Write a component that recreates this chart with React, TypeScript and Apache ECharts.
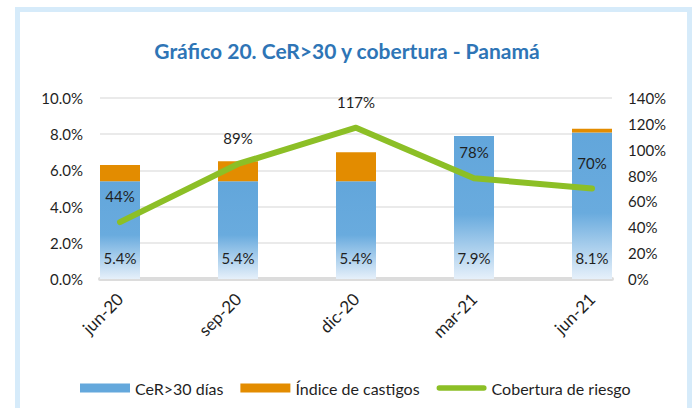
import React, { useEffect, useRef } from "react";
import * as echarts from "echarts";

const categories = ["jun-20", "sep-20", "dic-20", "mar-21", "jun-21"];
const cer30 = [5.4, 5.4, 5.4, 7.9, 8.1];
const castigos = [0.9, 1.1, 1.6, 0, 0.2];
const cobertura = [44, 89, 117, 78, 70];
const seriesNames = ["CeR>30 días", "Índice de castigos", "Cobertura de riesgo"];
const titleText = "Gráfico 20. CeR>30 y cobertura - Panamá";

const FONT = "Lato, 'Open Sans', sans-serif";
const TEXT = "#1f1f1f";
const BLUE = "#64A8DC";
const ORANGE = "#E38C00";
const GREEN = "#8CBF26";

export default function App() {
  const ref = useRef<HTMLDivElement>(null);
  useEffect(() => {
    if (!ref.current) return;
    const chart = echarts.init(ref.current, undefined, { renderer: "svg" });
    const top = 98;
    const height = 181;
    const option: any = {
      animation: false,
      backgroundColor: "#ffffff",
      textStyle: { fontFamily: FONT },
      title: {
        text: titleText,
        left: "center",
        top: 40,
        padding: [0, 0, 0, 8],
        textStyle: { color: "#2E75B6", fontSize: 21, fontWeight: "bold", fontFamily: FONT },
      },
      graphic: [
        {
          type: "rect",
          silent: true,
          shape: { x: 17.5, y: 9.5, width: 672, height: 430 },
          style: { fill: "none", stroke: "#D6EBFA", lineWidth: 5 },
          z: -1,
        },
      ],
      legend: {
        left: 75,
        top: 375,
        itemWidth: 50,
        itemHeight: 9,
        itemGap: 17,
        textStyle: { color: TEXT, fontSize: 16, fontFamily: FONT },
        data: [
          { name: seriesNames[0], icon: "rect", itemStyle: { color: BLUE } },
          { name: seriesNames[1], icon: "rect", itemStyle: { color: ORANGE } },
          {
            name: seriesNames[2],
            icon: "path://M3,0 L53,0 A3,3 0 0 1 53,6 L3,6 A3,3 0 0 1 3,0 Z",
            itemStyle: { color: GREEN },
          },
        ],
      },
      grid: [
        { left: 100, width: 512, top, height },
        { left: 61, width: 590, top, height },
      ],
      xAxis: [
        {
          gridIndex: 0,
          type: "value",
          min: 0,
          max: 1,
          axisLine: { show: true, lineStyle: { color: "#DCDCDC", width: 4 } },
          axisTick: { show: false },
          axisLabel: { show: false },
          splitLine: { show: false },
        },
        {
          gridIndex: 1,
          type: "category",
          data: categories,
          axisLine: { show: false },
          axisTick: { show: false },
          axisLabel: {
            rotate: 45,
            interval: 0,
            margin: 17,
            color: TEXT,
            fontSize: 17,
            fontFamily: FONT,
          },
        },
      ],
      yAxis: [
        {
          gridIndex: 0,
          type: "value",
          min: 0,
          max: 10,
          interval: 2,
          position: "left",
          axisLine: { show: false },
          axisTick: { show: false },
          axisLabel: {
            margin: 17,
            color: TEXT,
            fontSize: 15,
            fontFamily: FONT,
            formatter: (v: number) => v.toFixed(1) + "%",
          },
          splitLine: { lineStyle: { color: "#EAEAEA", width: 2 } },
        },
        {
          gridIndex: 0,
          type: "value",
          min: 0,
          max: 140,
          interval: 20,
          position: "right",
          axisLine: { show: false },
          axisTick: { show: false },
          axisLabel: {
            margin: 16,
            color: TEXT,
            fontSize: 15,
            fontFamily: FONT,
            formatter: (v: number) => v + "%",
          },
          splitLine: { show: false },
        },
        { gridIndex: 1, type: "value", min: 0, max: 10, show: false, splitLine: { show: false } },
        {
          gridIndex: 1,
          type: "value",
          min: 0,
          max: 140,
          show: false,
          position: "right",
          splitLine: { show: false },
        },
      ],
      series: [
        {
          name: seriesNames[0],
          type: "bar",
          xAxisIndex: 1,
          yAxisIndex: 2,
          stack: "total",
          barWidth: 40,
          data: cer30,
          itemStyle: {
            color: new echarts.graphic.LinearGradient(0, 0, 0, 1, [
              { offset: 0, color: "#62A6DB" },
              { offset: 0.55, color: "#69ABDE" },
              { offset: 1, color: "#E6F0FA" },
            ]),
          },
          label: {
            show: true,
            position: "insideBottom",
            distance: 14,
            color: TEXT,
            fontSize: 15,
            fontFamily: FONT,
            formatter: (p: any) => p.value.toFixed(1) + "%",
          },
        },
        {
          name: seriesNames[1],
          type: "bar",
          xAxisIndex: 1,
          yAxisIndex: 2,
          stack: "total",
          barWidth: 40,
          data: castigos,
          itemStyle: { color: ORANGE },
        },
        {
          name: seriesNames[2],
          type: "line",
          xAxisIndex: 1,
          yAxisIndex: 3,
          data: cobertura,
          symbol: "circle",
          symbolSize: 1,
          showSymbol: true,
          lineStyle: { color: GREEN, width: 6, cap: "round", join: "round" },
          itemStyle: { color: GREEN },
          label: {
            show: true,
            position: "top",
            distance: 18,
            color: TEXT,
            fontSize: 15,
            fontFamily: FONT,
            formatter: (p: any) => p.value + "%",
          },
          z: 5,
        },
      ],
    };
    chart.setOption(option);
    return () => chart.dispose();
  }, []);
  return (
    <div style={{ position: "fixed", left: 0, top: 0, width: 694, height: 408, background: "#fff" }}>
      <div ref={ref} style={{ width: 694, height: 408 }} />
    </div>
  );
}
